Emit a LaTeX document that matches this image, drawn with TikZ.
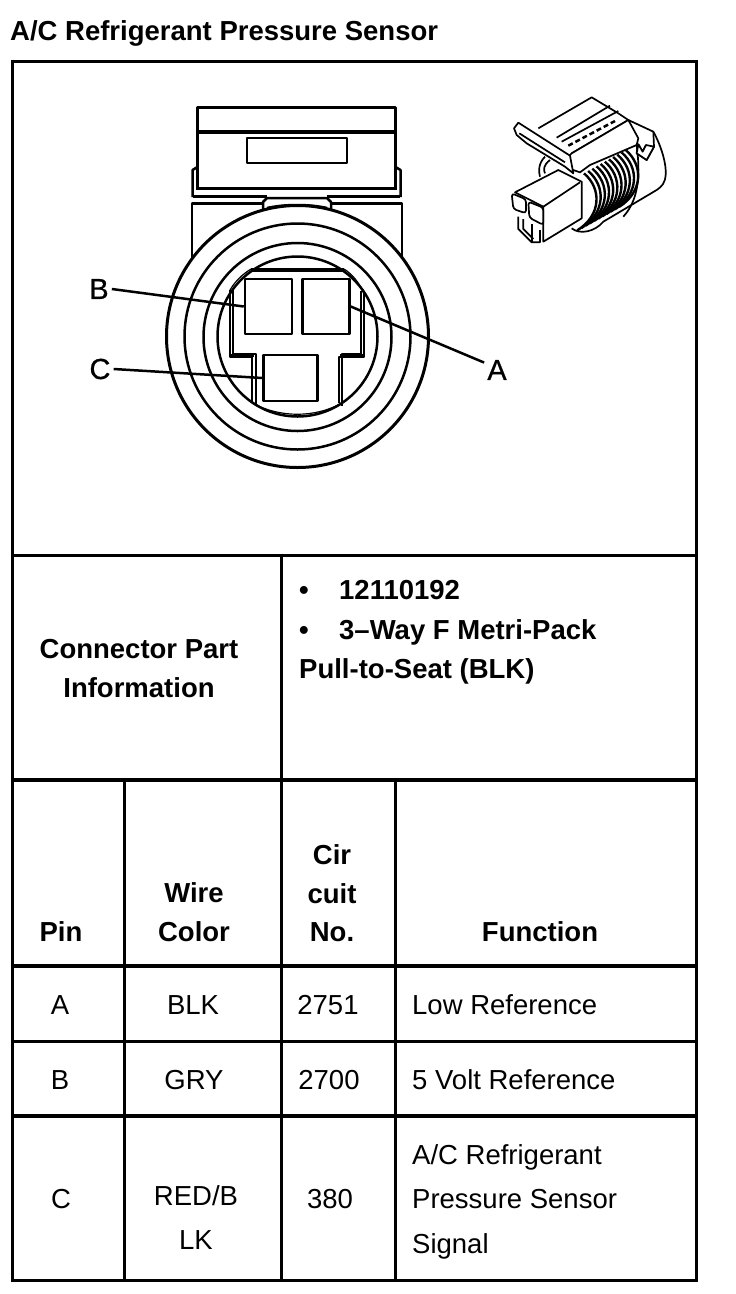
\documentclass[tikz,border=0pt]{standalone}
\usepackage{fontspec}
\setmainfont{Liberation Sans}
\newfontface\calloutfont[FakeBold=0.7]{Liberation Sans}
\usetikzlibrary{positioning}

\begin{document}
\begin{tikzpicture}[
  x=1pt,
  y=-1pt,
  line join=round,
  rule/.style={line width=3pt},
  heavyrule/.style={line width=4.5pt},
  part/.style={line width=2.5pt},
  finepart/.style={line width=1.2pt},
  sketchline/.style={line width=1.7pt},
  pinbox/.style={draw,line width=2.5pt,fill=white,inner sep=0pt},
  callout/.style={font=\fontsize{29}{32}\calloutfont,inner sep=3pt},
  cell/.style={font=\fontsize{27.5}{30}\selectfont,inner sep=0pt,anchor=base},
  leftcell/.style={cell,anchor=base west},
  headcell/.style={cell,font=\fontsize{27.5}{30}\selectfont\bfseries},
  leftheadcell/.style={headcell,anchor=base west}
]
\useasboundingbox (0,0) rectangle (736,1294);
\node[leftheadcell] (title) at (10,40.5) {A/C Refrigerant Pressure Sensor};
% table rules
\draw[rule] (12,61) -- (698,61);
\draw[rule] (12,59.5) -- (12,1282);
\draw[rule] (696,59.5) -- (696,1282);
\foreach \y in {555,1041,1280}
   \draw[rule] (12,\y) -- (698,\y);
\foreach \y in {780,966,1116}
   \draw[heavyrule] (12,\y) -- (698,\y);
\draw[rule] (281,555) -- (281,1282);
\foreach \x in {124,395}
   \draw[rule] (\x,780) -- (\x,1282);
% connector face, housing
\draw[line width=3pt] (197.5,190) -- (197.5,107) -- (395.5,107) -- (395.5,190);
\draw[line width=3.5pt] (197.5,132) -- (395.5,132);
\draw[part] (247,138) rectangle (347,163);
\draw[line width=3pt] (197.5,188.5) -- (395.5,188.5);
\draw[part] (192.5,197) -- (192.5,170) -- (197.5,167);
\draw[part] (400.5,197) -- (400.5,170) -- (395.5,167);
\draw[part] (193,196.5) -- (267,196.5);
\draw[part] (327,196.5) -- (400,196.5);
\draw[part] (192,260) -- (192,203.5) -- (263,203.5);
\draw[part] (402,260) -- (402,203.5) -- (331,203.5);
\draw[part] (263,212) -- (263,202) -- (267,198) -- (327,198) -- (331,202) -- (331,212);
\draw[part] (267,208) .. controls (285,204) and (309,204) .. (327,208);
% rings
\draw[line width=3pt,fill=white] (297.5,336.5) circle (131pt);
\draw[part] (297.5,336.5) circle (113pt);
\draw[part] (297.5,337) circle (94pt);
\draw[part] (297.5,336.5) circle (80pt);
% keyway outline
\draw[finepart] (230,290) -- (230,357) -- (252,357) -- (252,403);
\draw[finepart] (233,288) -- (233,354) -- (256,354) -- (256,406);
\draw[finepart] (364,294) -- (364,357) -- (339,357) -- (339,403);
\draw[finepart] (361,291) -- (361,354) -- (342,354) -- (342,406);
\draw[finepart] (230,290) .. controls (236,280) and (243,274) .. (251,269);
\draw[finepart] (344,269) .. controls (352,274) and (359,282) .. (364,294);
\draw[finepart] (252,403) .. controls (280,418) and (315,418) .. (342,403);
\draw[line width=4pt] (251,270) -- (344,270);
\draw[line width=2.5pt] (231,355.5) -- (254,355.5);
\draw[line width=2.5pt] (363,355.5) -- (340,355.5);
% pins
\node[pinbox,minimum width=47pt,minimum height=55pt] (pinA) at (326,306.5) {};
\node[pinbox,minimum width=47pt,minimum height=55pt] (pinB) at (268.5,306.5) {};
\node[pinbox,minimum width=54pt,minimum height=46pt] (pinC) at (290.5,378) {};
% callouts
\node[callout] (lblA) at (497,370) {A};
\node[callout] (lblB) at (99,289) {B};
\node[callout] (lblC) at (100,369) {C};
\draw[line width=2.5pt] (lblB.east) -- (pinB.west);
\draw[line width=2.5pt] (lblC.east) -- (pinC.west);
\draw[line width=2.5pt] (pinA.east) -- (lblA.150);
% small view of the connector
\begin{scope}[shift={(490,85)},x=1/3*1pt,y=-1/3*1pt]
\draw[sketchline] (145,130) -- (305,37) -- (385,85);
\draw[sketchline] (360,62) -- (200,158);
\draw[sketchline] (385,85) -- (415,105) -- (490,140) -- (492,185) -- (470,225) -- (440,205) -- (445,178) -- (458,200) -- (468,180);
\draw[sketchline] (215,170) -- (385,78);
\draw[line width=2.5pt,dash pattern=on 5pt off 3pt] (235,182) -- (375,108);
\draw[sketchline] (245,205) -- (415,105);
% plug
\draw[sketchline,fill=white] (75,322) -- (205,255) -- (275,290) -- (275,400) -- (160,470) -- (160,365) -- cycle;
\draw[sketchline] (160,365) -- (270,292);
\draw[sketchline,fill=white,rounded corners=3pt] (65,325) -- (108,343) -- (108,385) -- (70,372) -- cycle;
\draw[sketchline,fill=white,rounded corners=3pt] (115,350) -- (160,368) -- (160,420) -- (118,398) -- cycle;
\draw[sketchline] (85,395) -- (85,432) -- (125,472) -- (150,472) -- (150,435);
\draw[sketchline] (100,402) -- (100,432) -- (130,462);
\draw[sketchline] (125,418) -- (125,470);
% body and ribs
\draw[sketchline] (490,140) .. controls (515,185) and (530,240) .. (527,270) .. controls (525,295) and (515,305) .. (500,315) -- (340,410) .. controls (315,440) and (270,450) .. (245,430);
\draw[sketchline] (440,180) .. controls (450,260) and (450,340) .. (400,395);
\foreach \i in {0,1,...,10}
   \draw[line width=2.4pt] (282+12.5*\i,265-7*\i) .. controls (335+12.5*\i,310-7*\i) and (335+12.5*\i,390-7*\i) .. (262+12.5*\i,436-7*\i);
\draw[sketchline,fill=white] (245,205) -- (225,225) -- (235,250) -- (270,262) -- (300,240) -- (440,180) -- (445,160) -- (415,105) -- cycle;
\draw[sketchline,fill=white] (440,205) -- (445,178) -- (458,200) -- (468,180) -- (492,185) -- (470,225) -- cycle;
\draw[sketchline,fill=white] (72,130) -- (85,113) -- (240,212) -- (250,265) -- (225,245) -- (110,175) -- (80,150) -- cycle;
\draw[sketchline] (88,145) -- (225,232);
\draw[sketchline] (165,215) .. controls (145,235) and (145,260) .. (150,275);
\draw[sketchline] (180,225) .. controls (160,240) and (160,255) .. (165,265);
\end{scope}
% connector part row
\node[headcell] (partHead) at (139,658) {Connector Part};
\node[headcell] (partHeadB) at (139,697) {Information};
\node[leftheadcell] (partDotA) at (299,599) {•};
\node[leftheadcell] (partNo) at (339,599) {12110192};
\node[leftheadcell] (partDotB) at (299,639) {•};
\node[leftheadcell] (partType) at (339,639) {3–Way F Metri-Pack};
\node[leftheadcell] (partSeat) at (299,678) {Pull-to-Seat (BLK)};
% column heads
\node[headcell] (headPin) at (61,941) {Pin};
\node[headcell] (headWire) at (194,902) {Wire};
\node[headcell] (headColor) at (194,941) {Color};
\node[headcell] (headCir) at (332,864) {Cir};
\node[headcell] (headCuit) at (332,903) {cuit};
\node[headcell] (headNo) at (332,941) {No.};
\node[headcell] (headFunc) at (540,941) {Function};
% rows
\node[cell] (rowApin) at (60,1014) {A};
\node[cell] (rowAwire) at (193,1014) {BLK};
\node[cell] (rowAcir) at (328,1014) {2751};
\node[leftcell] (rowAfunc) at (412,1014) {Low Reference};
\node[cell] (rowBpin) at (60,1089) {B};
\node[cell] (rowBwire) at (194,1089) {GRY};
\node[cell] (rowBcir) at (329,1089) {2700};
\node[leftcell] (rowBfunc) at (412,1089) {5 Volt Reference};
\node[cell] (rowCpin) at (61,1208) {C};
\node[cell] (rowCwire) at (196,1205) {RED/B};
\node[cell] (rowCwireB) at (196,1249) {LK};
\node[cell] (rowCcir) at (330,1208) {380};
\node[leftcell] (rowCfunc) at (412,1164) {A/C Refrigerant};
\node[leftcell] (rowCfuncB) at (412,1208) {Pressure Sensor};
\node[leftcell] (rowCfuncC) at (412,1253) {Signal};
\end{tikzpicture}
\end{document}
